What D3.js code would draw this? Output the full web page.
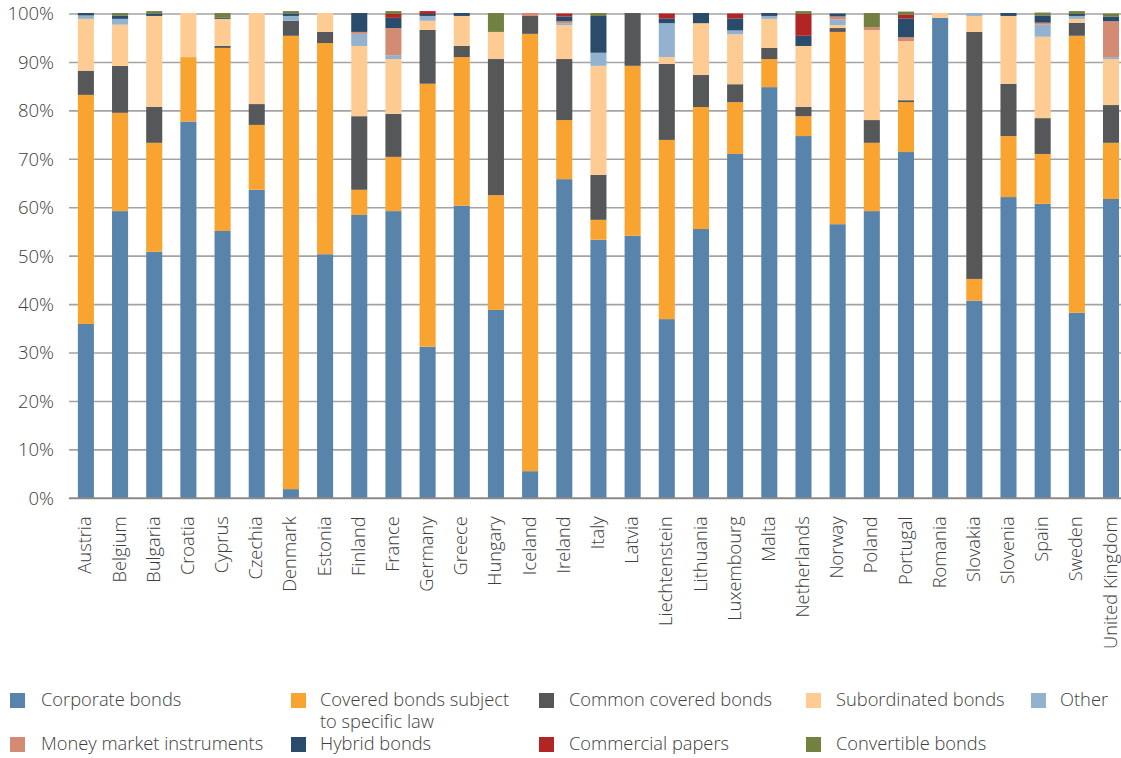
<!DOCTYPE html>
<html>
<head>
<meta charset="utf-8">
<script src="https://cdn.jsdelivr.net/npm/d3@7"></script>
<style>
  html, body { margin: 0; padding: 0; background: #fff; }
  svg { display: block; }
  text { font-family: "Open Sans", "Noto Sans", sans-serif; font-weight: 350; fill: #404040; }
</style>
</head>
<body>
<svg id="chart" width="1121" height="758"></svg>
<script>
// Share of debt securities issued, by type, per country (%)
const countries = ["Austria", "Belgium", "Bulgaria", "Croatia", "Cyprus", "Czechia", "Denmark", "Estonia",
  "Finland", "France", "Germany", "Greece", "Hungary", "Iceland", "Ireland", "Italy", "Latvia",
  "Liechtenstein", "Lithuania", "Luxembourg", "Malta", "Netherlands", "Norway", "Poland", "Portugal",
  "Romania", "Slovakia", "Slovenia", "Spain", "Sweden", "United Kingdom"];

const corporateBonds = [36.0, 59.3, 50.9, 77.8, 55.2, 63.7, 1.9, 50.4, 58.5, 59.3, 31.3, 60.4, 38.9, 5.6, 65.9, 53.4,
  54.2, 37.0, 55.6, 71.1, 84.9, 74.8, 56.6, 59.3, 71.5, 99.2, 40.8, 62.2, 60.8, 38.3, 61.8];
const coveredSpecificLaw = [47.3, 20.3, 22.5, 13.3, 37.8, 13.4, 93.6, 43.6, 5.2, 11.2, 54.3, 30.7, 23.7, 90.3, 12.2, 4.1,
  35.1, 37.0, 25.2, 10.7, 5.8, 4.1, 39.7, 14.1, 10.3, 0, 4.5, 12.6, 10.3, 57.2, 11.6];
const commonCovered = [5.0, 9.7, 7.4, 0, 0.4, 4.3, 3.1, 2.3, 15.2, 8.9, 11.1, 2.3, 28.1, 3.7, 12.6, 9.3,
  10.9, 15.7, 6.6, 3.7, 2.3, 1.9, 0.8, 4.7, 0.4, 0, 51.0, 10.8, 7.4, 2.7, 7.8];
const subordinated = [10.7, 8.5, 18.8, 9.1, 5.6, 18.8, 0, 3.9, 14.5, 11.3, 1.9, 6.2, 5.6, 0, 7.0, 22.5,
  0, 1.4, 10.7, 10.3, 6.0, 12.6, 0.6, 18.6, 12.2, 1.0, 3.3, 14.0, 16.8, 0.8, 9.5];
const otherBonds = [0.7, 1.2, 0, 0, 0, 0, 1.0, 0, 2.5, 0.8, 1.0, 0, 0, 0, 0.4, 2.7,
  0, 7.0, 0, 0.8, 0.6, 0, 1.2, 0, 0, 0, 0.6, 0, 2.5, 0.6, 0.4];
const moneyMarket = [0, 0, 0, 0, 0, 0, 0, 0, 0.4, 5.6, 0, 0, 0, 0.6, 0.4, 0,
  0, 0, 0, 0, 0, 0, 0.6, 0.6, 0.8, 0, 0, 0, 0.4, 0, 7.4];
const hybrid = [0.5, 0.7, 0.5, 0, 0.2, 0, 0.5, 0, 3.9, 2.1, 0.4, 0.6, 0, 0, 1.0, 7.6,
  0, 1.0, 2.1, 2.5, 0.6, 2.1, 0.6, 0, 3.9, 0, 0, 0.6, 1.5, 0.4, 1.0];
const commercialPapers = [0, 0, 0, 0, 0, 0, 0, 0, 0, 0.8, 0.6, 0, 0, 0, 0.6, 0,
  0, 1.0, 0, 1.0, 0, 4.5, 0, 0, 0.8, 0, 0, 0, 0, 0, 0];
const convertible = [0, 0.5, 0.5, 0, 1.0, 0, 0.5, 0, 0, 0.6, 0, 0, 3.9, 0, 0, 0.6,
  0, 0, 0, 0, 0, 0.6, 0, 2.9, 0.6, 0, 0, 0, 0.6, 0.6, 0.6];

const yTicks = [0, 10, 20, 30, 40, 50, 60, 70, 80, 90, 100];

const seriesNames = ["Corporate bonds", "Covered bonds subject to specific law", "Common covered bonds",
  "Subordinated bonds", "Other", "Money market instruments", "Hybrid bonds", "Commercial papers", "Convertible bonds"];
const seriesValues = [corporateBonds, coveredSpecificLaw, commonCovered, subordinated, otherBonds,
  moneyMarket, hybrid, commercialPapers, convertible];
const seriesColors = ["#5884ac", "#f9a331", "#555759", "#fecc92", "#92b2ce",
  "#d38b73", "#2b4b6b", "#b22524", "#738140"];

// Table rows for the stack layout
const rows = countries.map((c, i) => {
  const r = { country: c };
  seriesNames.forEach((s, k) => { r[s] = seriesValues[k][i]; });
  return r;
});
const stacked = d3.stack().keys(seriesNames)(rows);

const svg = d3.select("#chart");

const x = d3.scaleBand()
  .domain(countries)
  .range([68.8, 1128.1])
  .paddingInner(0.53)
  .paddingOuter(0.265);

const y = d3.scaleLinear().domain([0, 100]).range([498.3, 14]);

const color = d3.scaleOrdinal().domain(seriesNames).range(seriesColors);

// Horizontal gridlines
svg.append("g")
  .selectAll("line")
  .data(yTicks.filter(t => t > 0))
  .join("line")
  .attr("x1", 69).attr("x2", 1121)
  .attr("y1", d => y(d)).attr("y2", d => y(d))
  .attr("stroke", "#a3a3a3")
  .attr("stroke-width", 1.6);

// Y axis labels
const yAxis = svg.append("g")
  .attr("transform", "translate(54,0)")
  .call(d3.axisLeft(y).tickValues(yTicks).tickFormat(d => d + "%").tickSize(0).tickPadding(0));
yAxis.select(".domain").remove();
yAxis.selectAll("text")
  .attr("font-size", 18.5)
  .attr("font-family", "'Open Sans', sans-serif")
  .attr("font-weight", 350)
  .attr("fill", "#454545");

// Stacked bars
svg.append("g")
  .selectAll("g")
  .data(stacked)
  .join("g")
  .attr("fill", d => color(d.key))
  .selectAll("rect")
  .data(d => d)
  .join("rect")
  .attr("x", d => x(d.data.country))
  .attr("width", x.bandwidth())
  .attr("y", d => y(d[1]))
  .attr("height", d => Math.max(0, y(d[0]) - y(d[1])));

// Baseline
svg.append("line")
  .attr("x1", 69).attr("x2", 1121)
  .attr("y1", y(0)).attr("y2", y(0))
  .attr("stroke", "#8a8a8a")
  .attr("stroke-width", 2);

// Country labels, rotated
const xAxis = svg.append("g")
  .attr("transform", `translate(0,${y(0) + 18})`)
  .call(d3.axisBottom(x).tickSize(0).tickPadding(0));
xAxis.select(".domain").remove();
xAxis.selectAll("text")
  .attr("font-size", 18.3)
  .attr("font-family", "'Open Sans', sans-serif")
  .attr("font-weight", 350)
  .attr("fill", "#454545")
  .attr("text-anchor", "end")
  .attr("transform", "rotate(-90)")
  .attr("x", 0)
  .attr("y", -0.5)
  .attr("dy", "0.33em");

// Legend
const legendItems = [
  { name: "Corporate bonds", lines: ["Corporate bonds"], sx: 10, tx: 41, row: 0 },
  { name: "Covered bonds subject to specific law", lines: ["Covered bonds subject", "to specific law"], sx: 291, tx: 320, row: 0 },
  { name: "Common covered bonds", lines: ["Common covered bonds"], sx: 539, tx: 569, row: 0 },
  { name: "Subordinated bonds", lines: ["Subordinated bonds"], sx: 806, tx: 836, row: 0 },
  { name: "Other", lines: ["Other"], sx: 1031, tx: 1060, row: 0 },
  { name: "Money market instruments", lines: ["Money market instruments"], sx: 10, tx: 41, row: 1 },
  { name: "Hybrid bonds", lines: ["Hybrid bonds"], sx: 291, tx: 320, row: 1 },
  { name: "Commercial papers", lines: ["Commercial papers"], sx: 539, tx: 569, row: 1 },
  { name: "Convertible bonds", lines: ["Convertible bonds"], sx: 806, tx: 836, row: 1 }
];
const rowY = [693, 737];

const legend = svg.append("g");
const li = legend.selectAll("g")
  .data(legendItems)
  .join("g");
li.append("rect")
  .attr("x", d => d.sx)
  .attr("y", d => rowY[d.row])
  .attr("width", 15)
  .attr("height", 15)
  .attr("fill", d => color(d.name));
li.append("text")
  .attr("x", d => d.tx)
  .attr("y", d => rowY[d.row] + 12.5)
  .attr("font-size", 18.3)
  .attr("font-weight", 350)
  .attr("fill", "#454545")
  .selectAll("tspan")
  .data(d => d.lines.map((l, k) => ({ l, k, tx: d.tx })))
  .join("tspan")
  .attr("x", d => d.tx)
  .attr("dy", d => d.k === 0 ? 0 : 22)
  .text(d => d.l);
</script>
</body>
</html>
